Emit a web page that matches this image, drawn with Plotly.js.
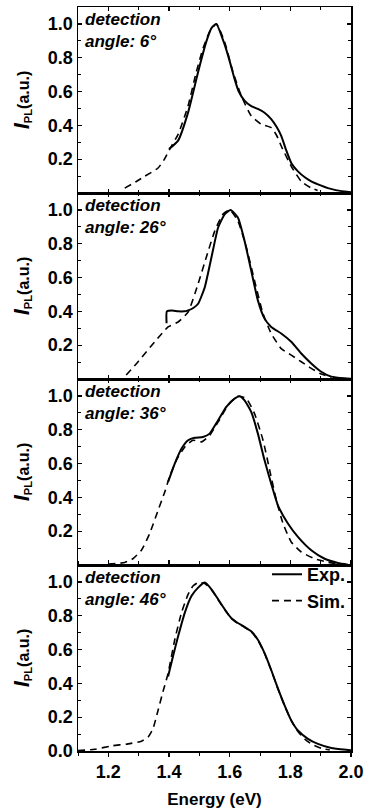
<!DOCTYPE html>
<html>
<head>
<meta charset="utf-8">
<script src="https://cdn.plot.ly/plotly-3.0.1.min.js"></script>
<style>html,body{margin:0;padding:0;background:#fff;}#chart{width:365px;height:812px;}</style>
</head>
<body>
<div id="chart"></div>
<script>
// Panel labels
const angles = ["6°", "26°", "36°", "46°"];

// Panel 1 (6°)
const p1ExpE = [1.400,1.430,1.463,1.496,1.523,1.540,1.556,1.583,1.600,1.616,1.630,1.649,1.670,1.693,1.715,1.737,1.755,1.770,1.785,1.803,1.825,1.850,1.869,1.900,1.924,1.950,1.979,2.000];
const p1ExpV = [0.26,0.31,0.477,0.716,0.895,0.975,1.0,0.88,0.78,0.675,0.60,0.546,0.515,0.497,0.475,0.437,0.39,0.338,0.26,0.178,0.128,0.09,0.069,0.045,0.029,0.017,0.009,0.004];
const p1SimE = [1.254,1.290,1.320,1.364,1.385,1.402,1.430,1.463,1.490,1.512,1.534,1.556,1.583,1.611,1.638,1.671,1.704,1.737,1.755,1.770,1.803,1.836,1.869,1.890];
const p1SimV = [0.029,0.065,0.099,0.148,0.20,0.258,0.347,0.516,0.716,0.855,0.954,1.0,0.895,0.716,0.576,0.457,0.407,0.387,0.34,0.278,0.158,0.069,0.029,0.015];

// Panel 2 (26°)
const p2ExpE = [1.392,1.393,1.410,1.430,1.450,1.463,1.480,1.496,1.518,1.540,1.562,1.584,1.603,1.627,1.649,1.671,1.693,1.715,1.737,1.770,1.803,1.836,1.869,1.902,1.935,1.979,2.000];
const p2ExpV = [0.33,0.40,0.405,0.40,0.40,0.406,0.42,0.445,0.543,0.72,0.896,0.975,1.0,0.955,0.818,0.641,0.465,0.357,0.308,0.269,0.22,0.151,0.092,0.043,0.014,0.004,0.002];
const p2SimE = [1.259,1.298,1.353,1.397,1.430,1.463,1.496,1.523,1.551,1.578,1.600,1.627,1.655,1.682,1.710,1.737,1.770,1.803,1.836,1.869,1.902,1.935];
const p2SimV = [0.024,0.102,0.22,0.308,0.337,0.396,0.563,0.72,0.876,0.975,1.0,0.935,0.778,0.582,0.386,0.269,0.18,0.141,0.102,0.063,0.029,0.01];

// Panel 3 (36°)
const p3ExpE = [1.397,1.419,1.441,1.463,1.485,1.512,1.534,1.562,1.589,1.616,1.633,1.649,1.671,1.693,1.715,1.737,1.759,1.792,1.825,1.869,1.913,1.957,1.990];
const p3ExpV = [0.491,0.60,0.688,0.738,0.753,0.757,0.777,0.856,0.935,0.984,0.998,0.974,0.905,0.777,0.619,0.481,0.353,0.245,0.166,0.087,0.037,0.012,0.002];
const p3SimE = [1.200,1.254,1.281,1.309,1.336,1.364,1.386,1.402,1.424,1.452,1.479,1.507,1.534,1.562,1.595,1.627,1.655,1.682,1.710,1.732,1.754,1.776,1.803,1.836,1.880,1.924,1.968];
const p3SimV = [0.005,0.015,0.037,0.087,0.185,0.323,0.432,0.521,0.619,0.698,0.738,0.728,0.767,0.846,0.945,0.998,0.984,0.895,0.738,0.56,0.383,0.245,0.136,0.077,0.037,0.016,0.004];

// Panel 4 (46°)
const p4ExpE = [1.397,1.413,1.430,1.452,1.474,1.496,1.518,1.540,1.562,1.584,1.605,1.627,1.649,1.671,1.693,1.715,1.737,1.759,1.781,1.803,1.825,1.858,1.891,1.935,1.990,2.000];
const p4ExpV = [0.44,0.559,0.678,0.817,0.916,0.966,0.996,0.956,0.897,0.837,0.787,0.757,0.734,0.708,0.658,0.579,0.479,0.37,0.27,0.181,0.121,0.072,0.042,0.018,0.006,0.004];
const p4SimE = [1.100,1.155,1.210,1.265,1.309,1.331,1.347,1.364,1.380,1.397,1.419,1.441,1.463,1.479,1.496,1.518,1.540,1.562,1.584,1.605,1.627,1.649,1.671,1.693,1.715,1.737,1.759,1.781,1.803,1.825,1.847,1.869,1.902,1.930];
const p4SimV = [0.002,0.01,0.03,0.042,0.058,0.082,0.131,0.241,0.35,0.459,0.658,0.817,0.926,0.976,0.996,0.99,0.954,0.895,0.835,0.785,0.755,0.732,0.705,0.655,0.577,0.477,0.368,0.268,0.179,0.115,0.072,0.042,0.016,0.006];

const expE = [p1ExpE, p2ExpE, p3ExpE, p4ExpE];
const expV = [p1ExpV, p2ExpV, p3ExpV, p4ExpV];
const simE = [p1SimE, p2SimE, p3SimE, p4SimE];
const simV = [p1SimV, p2SimV, p3SimV, p4SimV];

const xTickVals = [1.2, 1.4, 1.6, 1.8, 2.0];
const xTickText = ["1.2", "1.4", "1.6", "1.8", "2.0"];
const yTickVals = [0.2, 0.4, 0.6, 0.8, 1.0];
const yTickValsBottom = [0.0, 0.2, 0.4, 0.6, 0.8, 1.0];

const FONT = "Liberation Sans, Arial, sans-serif";
const traces = [];
const layout = {
  width: 365, height: 812,
  margin: {l: 78, r: 14, t: 7, b: 61},
  paper_bgcolor: "#fff", plot_bgcolor: "#fff",
  font: {family: FONT, color: "#000", size: 18, weight: "bold"},
  showlegend: true,
  legend: {x: 1, xanchor: "right", y: 0.262, yanchor: "top", xref: "paper", yref: "paper",
           bgcolor: "rgba(0,0,0,0)", font: {size: 18, weight: "bold", family: FONT},
           tracegroupgap: 0, itemwidth: 30, borderwidth: 0},
  annotations: []
};

for (let i = 0; i < 4; i++) {
  const n = i + 1;
  const xa = n === 1 ? "x" : "x" + n;
  const ya = n === 1 ? "y" : "y" + n;
  const last = (i === 3);
  traces.push({x: expE[i], y: expV[i], xaxis: xa, yaxis: ya, type: "scatter", mode: "lines",
    name: "Exp.", showlegend: last, line: {color: "#000", width: 2, shape: "spline", smoothing: 0.5}});
  traces.push({x: simE[i], y: simV[i], xaxis: xa, yaxis: ya, type: "scatter", mode: "lines",
    name: "Sim.", showlegend: last, line: {color: "#000", width: 1.6, dash: "7px,5px", shape: "spline", smoothing: 0.5}});

  const top = 1 - i * 0.25;
  const bottom = top - 0.25;
  const xaxis = {
    anchor: ya, domain: [0, 1], range: [1.1, 2.0],
    showline: true, linecolor: "#000", linewidth: 1.5, mirror: "ticks",
    ticks: last ? "outside" : "inside", ticklen: 4, tickwidth: 1.3, tickcolor: "#000",
    tickvals: xTickVals, ticktext: xTickText, showticklabels: last,
    minor: {dtick: 0.1, tick0: 1.1, ticks: last ? "outside" : "inside", ticklen: 3, tickcolor: "#000", tickwidth: 1},
    showgrid: false, zeroline: false,
    tickfont: {size: 18, weight: "bold", family: FONT}
  };
  if (last) xaxis.title = {text: "Energy (eV)", font: {size: 17, weight: "bold", family: FONT}, standoff: 12};
  layout[(n === 1 ? "xaxis" : "xaxis" + n)] = xaxis;
  layout[(n === 1 ? "yaxis" : "yaxis" + n)] = {
    anchor: xa, domain: [Math.max(0, bottom), top], range: [0, 1.1],
    showline: true, linecolor: "#000", linewidth: 1.5, mirror: "ticks",
    ticks: "inside", ticklen: 4, tickwidth: 1.3, tickcolor: "#000",
    tickvals: last ? yTickValsBottom : yTickVals, tickformat: ".1f",
    minor: {dtick: 0.1, tick0: 0, ticks: "inside", ticklen: 3, tickcolor: "#000", tickwidth: 1},
    showgrid: false, zeroline: false,
    tickfont: {size: 18, weight: "bold", family: FONT},
    title: {text: "<span style='font-size:22px'><i>I</i></span><sub>PL</sub>(a.u.)",
            font: {size: 16, weight: "bold", family: FONT}, standoff: 14}
  };
  layout.annotations.push({
    xref: xa + " domain", yref: ya + " domain", x: 0.02, y: 1, xanchor: "left", yanchor: "top",
    yshift: -1, showarrow: false, align: "left",
    text: "<i>detection<br>angle: " + angles[i] + "</i>",
    font: {size: 17, weight: "bold", family: FONT, color: "#000"}
  });
}

Plotly.newPlot("chart", traces, layout, {staticPlot: true, displayModeBar: false});
</script>
</body>
</html>
